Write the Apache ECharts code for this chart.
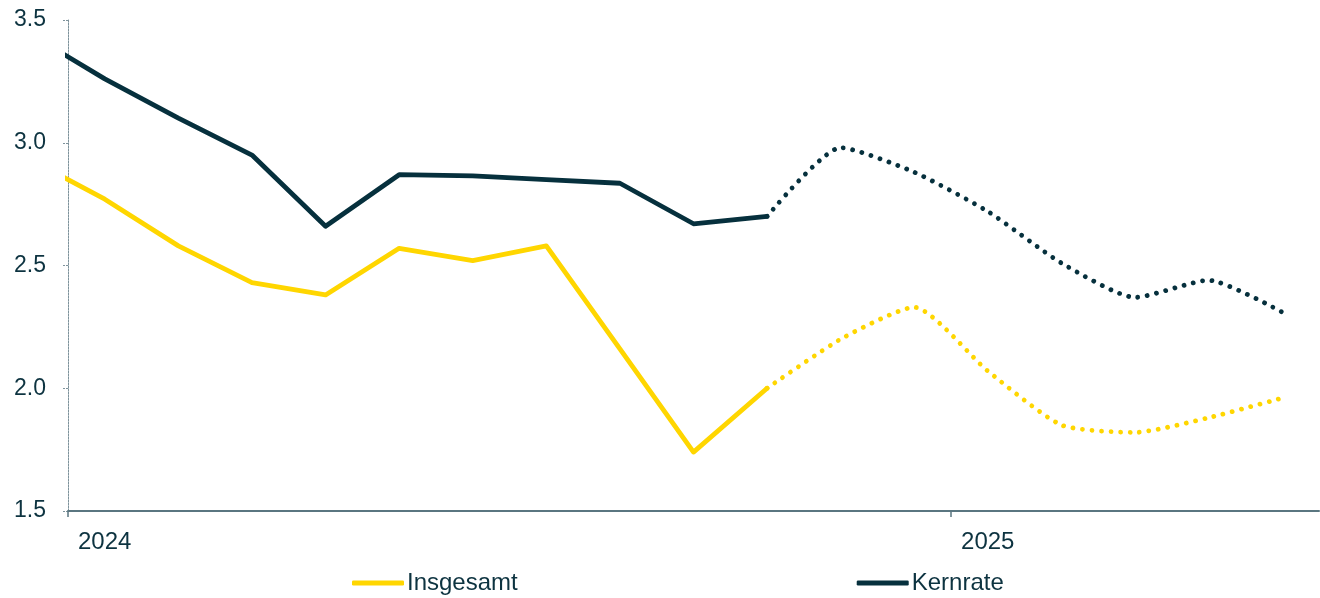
<!DOCTYPE html>
<html>
<head>
<meta charset="utf-8">
<script src="https://cdn.jsdelivr.net/npm/echarts@6/dist/echarts.min.js"></script>
<style>
  html, body { margin: 0; padding: 0; background: #fff; }
  #chart { width: 1320px; height: 598px; }
</style>
</head>
<body>
<div id="chart"></div>
<script>
// monthly values, Dec 2023 .. May 2025 (from Nov 2024 on: forecast, dotted)
const months = ['2023-12', '2024-01', '2024-02', '2024-03', '2024-04', '2024-05', '2024-06',
  '2024-07', '2024-08', '2024-09', '2024-10', '2024-11', '2024-12', '2025-01',
  '2025-02', '2025-03', '2025-04', '2025-05'];
const insgesamt = [2.93, 2.77, 2.58, 2.43, 2.38, 2.57, 2.52, 2.58, 2.16, 1.74, 2.0,
  2.2, 2.33, 2.07, 1.85, 1.82, 1.88, 1.96];
const kernrate = [3.44, 3.26, 3.1, 2.95, 2.66, 2.87, 2.865, 2.85, 2.835, 2.67, 2.70,
  2.98, 2.88, 2.72, 2.51, 2.37, 2.44, 2.31];
const lastActual = '2024-10';
const yearTicks = { 0: '2024', 12: '2025' };

const YELLOW = '#ffd600';
const DARK = '#06303d';
const TEXT = '#0d3340';

// month index on the axis: Jan 2024 runs from 0 to 1, values sit mid-month
const xOf = (m) => {
  const [y, mo] = m.split('-').map(Number);
  return (y - 2024) * 12 + (mo - 1) + 0.5;
};
const cut = months.indexOf(lastActual);
const pts = (vals, from, to) => months.slice(from, to).map((m, i) => [xOf(m), vals[from + i]]);

const solid = (name, color, vals) => ({
  name, type: 'line', data: pts(vals, 0, cut + 1),
  showSymbol: false, clip: true, color,
  lineStyle: { width: 4.8, color, cap: 'round', join: 'round' }
});
const dotted = (name, color, vals) => ({
  name, type: 'line', data: pts(vals, cut, months.length),
  showSymbol: false, clip: true, color, smooth: 0.2,
  lineStyle: { width: 4.8, color, type: [0.01, 9.5], cap: 'round' }
});

const chart = echarts.init(document.getElementById('chart'));
chart.setOption({
  animation: false,
  textStyle: { fontFamily: 'Liberation Sans, Arial, sans-serif' },
  grid: { left: 68, right: 1, top: 20, bottom: 87 },
  xAxis: {
    type: 'value', min: 0, max: 17, interval: 12,
    splitLine: { show: false },
    axisLine: { lineStyle: { color: '#5a7680', width: 2 } },
    axisTick: { show: true, length: 6, customValues: [0, 12], lineStyle: { color: '#5a7680', width: 1.5 } },
    axisLabel: {
      color: TEXT, fontSize: 24, align: 'left', margin: 19, padding: [0, 0, 0, 10],
      customValues: [0, 12],
      formatter: (v) => yearTicks[v] || ''
    }
  },
  yAxis: {
    type: 'value', min: 1.5, max: 3.5, interval: 0.5,
    splitLine: { show: false },
    axisLine: { show: true, lineStyle: { color: '#7e939c', width: 1, type: [2, 1] } },
    axisTick: { show: true, length: 6, lineStyle: { color: '#7e939c', width: 1, type: [2, 1] } },
    axisLabel: { color: TEXT, fontSize: 23, margin: 22, formatter: (v) => v.toFixed(1) }
  },
  legend: {
    data: ['Insgesamt', 'Kernrate'],
    bottom: -2, left: 347, itemGap: 339,
    icon: 'roundRect', itemWidth: 52, itemHeight: 5,
    textStyle: { color: TEXT, fontSize: 24, padding: [0, 0, 0, -2] }
  },
  series: [
    solid('Insgesamt', YELLOW, insgesamt),
    dotted('Insgesamt', YELLOW, insgesamt),
    solid('Kernrate', DARK, kernrate),
    dotted('Kernrate', DARK, kernrate)
  ]
});
</script>
</body>
</html>
